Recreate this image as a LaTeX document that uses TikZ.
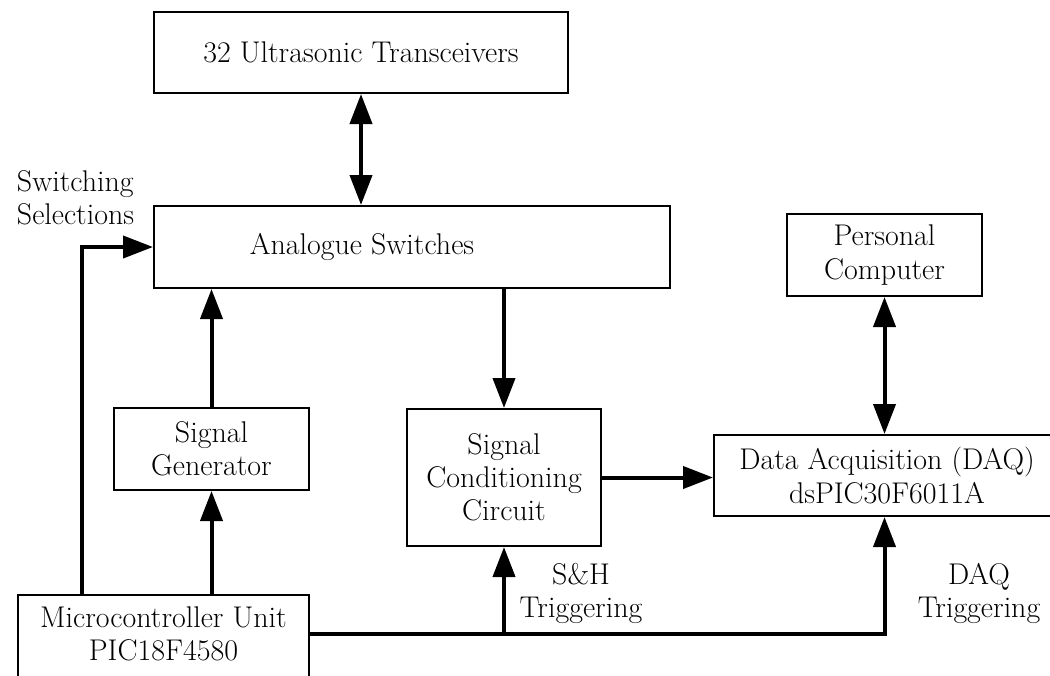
\documentclass[tikz,border=0pt]{standalone}
\usepackage{fontspec}
\usepackage{tikz}
\usetikzlibrary{arrows.meta,calc}

\begin{document}
\begin{tikzpicture}[
	font=\fontsize{21.3}{23.5}\selectfont,
	box/.style={draw, line width=0.05cm, align=center, inner sep=0pt},
	conn/.style={line width=0.1cm},
	>={Triangle[length=0.75cm,width=0.55cm]}
	]
			\useasboundingbox (0,0) rectangle (26.25,-16.875);
			% boxes
			\node[box, minimum width=10.35cm, minimum height=2.025cm] (ut) at (9.025,-1.3125) {32 Ultrasonic Transceivers};
			\node[box, minimum width=12.9cm, minimum height=2.05cm] (sw) at (10.3,-6.175) {};
			\node (swtxt) at (9.05,-6.175) {Analogue Switches};
			\node[box, minimum width=4.875cm, minimum height=2.05cm] (pc) at (22.1125,-6.375) {Personal\\Computer};
			\node[box, minimum width=4.875cm, minimum height=2.05cm] (sg) at (5.2875,-11.225) {Signal\\Generator};
			\node[box, minimum width=4.85cm, minimum height=3.425cm] (scc) at (12.6,-11.9375) {Signal\\Conditioning\\Circuit};
			\node[box, minimum width=8.65cm, minimum height=2.025cm] (daq) at (22.175,-11.8875) {Data Acquisition (DAQ)\\dsPIC30F6011A};
			\node[box, minimum width=7.275cm, minimum height=3cm, anchor=north] (mcu) at (4.0875,-14.85) {};
			\node[align=center] (mcutxt) at (4.0875,-15.85) {Microcontroller Unit\\PIC18F4580};
			% labels
			\node[align=left, anchor=west] (swsel) at (0.3,-4.95) {Switching\\Selections};
			\node[align=center] (shtrig) at (14.525,-14.825) {S\&H\\Triggering};
			\node[align=center] (daqtrig) at (24.475,-14.825) {DAQ\\Triggering};
			% arrows
			\draw[conn, <->] (ut.south) -- (ut.south |- sw.north);
			\draw[conn, ->] (sg.north) -- (sg.north |- sw.south);
			\draw[conn, ->] (mcu.north -| sg) -- (sg.south);
			\draw[conn, ->] ($(mcu.north west)+(1.625,0)$) |- (sw.west);
			\draw[conn, ->] (sw.south -| scc) -- (scc.north);
			\draw[conn, ->] (scc.east) -- (scc.east -| daq.west);
			\draw[conn, <->] (pc.south) -- (pc.south |- daq.north);
			% triggering bus
			\coordinate (bus) at (mcu.east |- mcutxt.center);
			\draw[conn, ->] (bus) -| (pc.south |- daq.south);
			\draw[conn, ->] (bus -| scc) -- (scc.south);
		\end{tikzpicture}
\end{document}
